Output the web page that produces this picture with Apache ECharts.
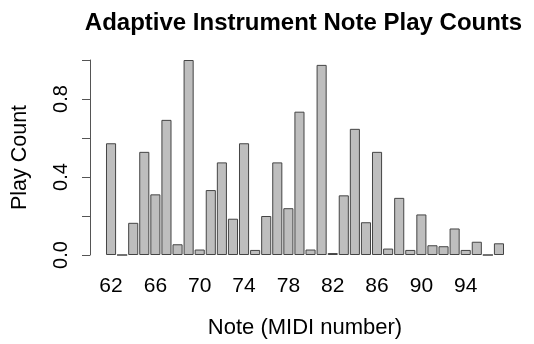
<!DOCTYPE html>
<html>
<head>
<meta charset="utf-8">
<script src="https://cdn.jsdelivr.net/npm/echarts@6/dist/echarts.min.js"></script>
<style>
html,body{margin:0;padding:0;background:#fff;}
#c{width:534px;height:344px;}
</style>
</head>
<body>
<div id="c"></div>
<script>
const notes = [62,63,64,65,66,67,68,69,70,71,72,73,74,75,76,77,78,79,80,81,82,83,84,85,86,87,88,89,90,91,92,93,94,95,96,97];
const playCounts = [0.573,0,0.165,0.529,0.311,0.693,0.055,1.0,0.028,0.333,0.475,0.186,0.573,0.026,0.2,0.475,0.24,0.735,0.028,0.975,0.01,0.306,0.647,0.168,0.529,0.033,0.293,0.026,0.208,0.05,0.045,0.136,0.026,0.068,0,0.06];
const yTicks = [0, 0.2, 0.4, 0.6, 0.8, 1.0];
const yLabelled = [0, 0.4, 0.8];

const font = 'Liberation Sans, Arial, Helvetica, sans-serif';
const chart = echarts.init(document.getElementById('c'), null, {renderer:'canvas'});
chart.setOption({
  animation: false,
  backgroundColor: '#fff',
  title: {
    text: 'Adaptive Instrument Note Play Counts',
    left: 298.5, top: 6, textAlign: 'center',
    textStyle: {fontFamily: font, fontSize: 24, fontWeight: 'bold', color: '#000'}
  },
  grid: {left: 105.5, right: 29.5, top: 60, bottom: 86.7, containLabel: false},
  xAxis: {
    type: 'category',
    data: notes.map(String),
    boundaryGap: true,
    axisLine: {show: false},
    axisTick: {show: false},
    axisLabel: {interval: 3, margin: 21, fontFamily: font, fontSize: 21, color: '#000'},
    name: 'Note (MIDI number)',
    nameLocation: 'middle',
    nameGap: 62,
    nameTextStyle: {fontFamily: font, fontSize: 22, color: '#000'}
  },
  yAxis: {
    type: 'value',
    min: 0, max: 1, interval: 0.2,
    offset: 15.5,
    splitLine: {show: false},
    axisLine: {show: true, lineStyle: {color: '#555', width: 1}},
    axisTick: {show: true, length: 8, lineStyle: {color: '#555', width: 1}},
    axisLabel: {
      rotate: 90, margin: 19, fontFamily: font, fontSize: 20, color: '#000',
      formatter: function (v) {
        for (const t of yLabelled) { if (Math.abs(v - t) < 1e-6) return v.toFixed(1); }
        return '';
      }
    },
    name: 'Play Count',
    nameLocation: 'middle',
    nameRotate: 90,
    nameGap: 59,
    nameTextStyle: {fontFamily: font, fontSize: 21.5, color: '#000'}
  },
  series: [{
    type: 'bar',
    data: playCounts,
    barCategoryGap: '9%',
    itemStyle: {color: '#bebebe', borderColor: '#444', borderWidth: 1}
  }]
});
</script>
</body>
</html>
